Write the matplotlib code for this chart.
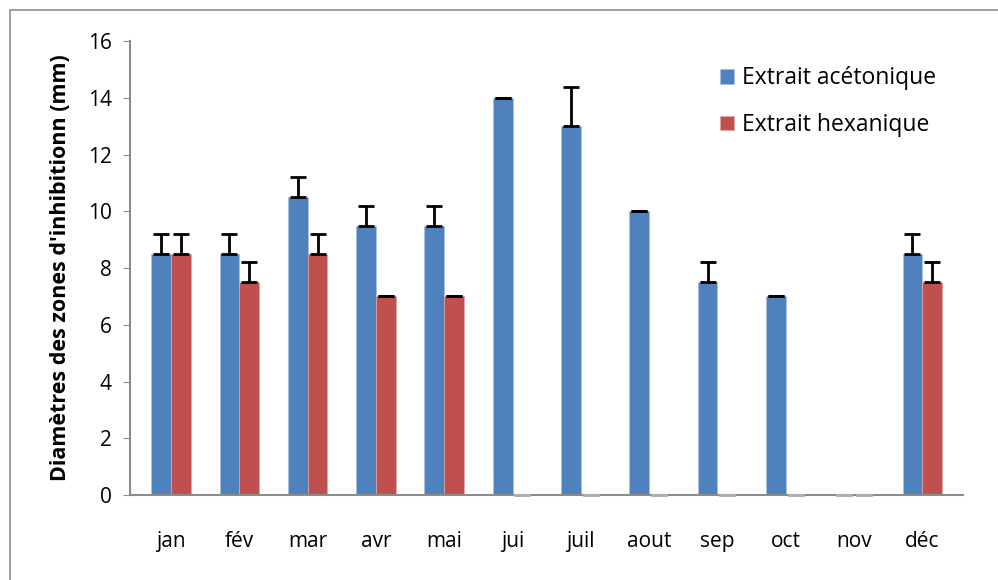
import matplotlib
matplotlib.use("Agg")
import matplotlib.pyplot as plt
import numpy as np

months = ["jan", "fév", "mar", "avr", "mai", "jui", "juil", "aout", "sep", "oct", "nov", "déc"]
acetone = [8.5, 8.5, 10.5, 9.5, 9.5, 14, 13, 10, 7.5, 7, 0, 8.5]
acetone_err = [0.7, 0.7, 0.7, 0.7, 0.7, 0, 1.4, 0, 0.7, 0, 0, 0.7]
hexane = [8.5, 7.5, 8.5, 7, 7, 0, 0, 0, 0, 0, 0, 7.5]
hexane_err = [0.7, 0.7, 0.7, 0, 0, 0, 0, 0, 0, 0, 0, 0.7]

plt.rcParams['font.family'] = ['Open Sans', 'DejaVu Sans']

fig = plt.figure(figsize=(9.98, 5.8), dpi=100)
ax = fig.add_axes([0.1303, 0.1466, 0.835, 0.7824])

# outer chart frame
fig.patches.append(plt.Rectangle((0.010, -0.01), 1.0, 1 - 10/580 + 0.01,
                                 transform=fig.transFigure, fill=False,
                                 edgecolor='#8c8c8c', linewidth=1.2))

x = np.arange(len(months))
w = 0.29
ax.bar(x - w/2, acetone, w, color='#4F81BD', edgecolor='#a9c1e0', linewidth=0.5,
       label='Extrait acétonique')
ax.bar(x + w/2, hexane, w, color='#C0504D', edgecolor='#e0a9a7', linewidth=0.5,
       label='Extrait hexanique')

def draw_err(xs, vals, errs):
    for xi, v, e in zip(xs, vals, errs):
        c = 'black' if v > 0 else '#b0b0b0'
        eb = ax.errorbar(xi, v, yerr=[[0], [e]], fmt='none', ecolor=c,
                         elinewidth=2, capsize=5.5, capthick=2, zorder=5)
        for art in eb.lines[1]:
            art.set_clip_on(False)
        for art in eb.lines[2]:
            art.set_clip_on(False)

draw_err(x - w/2, acetone, acetone_err)
draw_err(x + w/2, hexane, hexane_err)

ax.set_xlim(-0.6, len(months) - 0.4)
ax.set_ylim(0, 16)
ax.set_yticks(np.arange(0, 17, 2))
ax.set_xticks(x)
ax.set_xticklabels(months, fontsize=15)
ax.tick_params(axis='y', labelsize=15, length=5, color='#8c8c8c', direction='out', pad=8)
ax.tick_params(axis='x', length=0, pad=26)
for s in ['top', 'right']:
    ax.spines[s].set_visible(False)
for s in ['left', 'bottom']:
    ax.spines[s].set_color('#8c8c8c')
    ax.spines[s].set_linewidth(1.5)

ax.set_ylabel("Diamètres des zones d'inhibitionn (mm)", fontsize=15.5,
              fontweight='bold', labelpad=12)

ax.legend(loc='upper left', bbox_to_anchor=(0.683, 0.99), frameon=False,
          fontsize=16.5, handlelength=0.6, handleheight=0.6,
          handletextpad=0.35, labelspacing=1.0)

fig.savefig("out.png", dpi=100)
